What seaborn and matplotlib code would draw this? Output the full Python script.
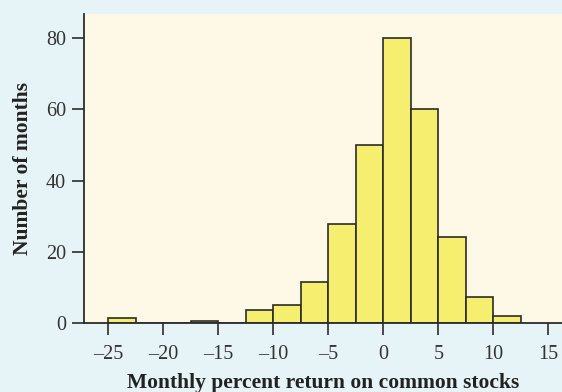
import matplotlib
matplotlib.use("Agg")
import matplotlib.pyplot as plt
import seaborn as sns

# histogram bins (percent) and counts
bin_edges = [-25, -22.5, -20, -17.5, -15, -12.5, -10, -7.5, -5, -2.5, 0, 2.5, 5, 7.5, 10, 12.5]
counts = [1.4, 0, 0, 0.6, 0, 3.8, 5.2, 11.7, 27.8, 50, 80, 60.2, 24.2, 7.5, 2.2]

xticks = [-25, -20, -15, -10, -5, 0, 5, 10, 15]
xtick_labels = ["\u201325", "\u201320", "\u201315", "\u201310", "\u20135", "0", "5", "10", "15"]
yticks = [0, 20, 40, 60, 80]

bin_mids = [(a + b) / 2 for a, b in zip(bin_edges[:-1], bin_edges[1:])]

sns.set_theme(style="ticks")
plt.rcParams['font.family'] = ['Liberation Serif', 'DejaVu Serif']

fig = plt.figure(figsize=(5.62, 3.92), dpi=100, facecolor='#E6F4F7')
ax = fig.add_axes([0.150, 0.175, 0.850, 0.7885])
ax.set_facecolor('#FDF9E6')

sns.histplot(x=bin_mids, weights=counts, bins=bin_edges, ax=ax,
             color='#F6EE6E', edgecolor='#2B2B2B', linewidth=1.2, alpha=1)

ax.set_xlim(-27.18, 16.25)
ax.set_ylim(0, 86.7)
ax.set_xticks(xticks)
ax.set_xticklabels(xtick_labels)
ax.set_yticks(yticks)

for s in ['top', 'right']:
    ax.spines[s].set_visible(False)
for s in ['left', 'bottom']:
    ax.spines[s].set_color('#2B2B2B')
    ax.spines[s].set_linewidth(1.3)

ax.tick_params(axis='both', length=8.3, width=1.2, color='#2B2B2B',
               labelsize=14.5, labelcolor='#333333', pad=7)
ax.tick_params(axis='y', pad=5)

ax.set_xlabel('Monthly percent return on common stocks', fontsize=15.5,
              fontweight='bold', color='#222222', labelpad=7)
ax.set_ylabel('Number of months', fontsize=15.5, fontweight='bold',
              color='#222222', labelpad=9)

fig.savefig('out.png', dpi=100, facecolor=fig.get_facecolor())
